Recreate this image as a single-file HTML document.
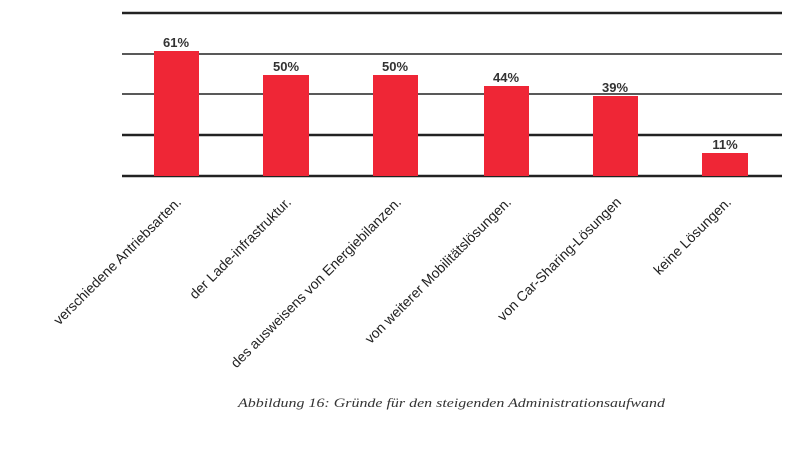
<!DOCTYPE html>
<html><head><style>body{margin:0;background:#fff}</style></head><body>
<svg width="800" height="451" xmlns="http://www.w3.org/2000/svg" font-family="Liberation Sans, sans-serif">
<g stroke="#222" stroke-width="2.5">
<line x1="122" y1="13" x2="782" y2="13"/>
<line x1="122" y1="54" x2="782" y2="54" stroke-width="1.5"/>
<line x1="122" y1="94" x2="782" y2="94" stroke-width="1.5"/>
<line x1="122" y1="135" x2="782" y2="135"/>
<line x1="122" y1="176" x2="782" y2="176"/>
</g>
<g fill="#ef2636">
<rect x="154" y="51" width="45" height="125"/>
<rect x="263" y="75" width="46" height="101"/>
<rect x="373" y="75" width="45" height="101"/>
<rect x="484" y="86" width="45" height="90"/>
<rect x="593" y="96" width="45" height="80"/>
<rect x="702" y="153" width="46" height="23"/>
</g>
<g font-size="13" font-weight="bold" fill="#333" text-anchor="middle">
<text x="176" y="47">61%</text><text x="286" y="71">50%</text><text x="395" y="71">50%</text>
<text x="506" y="82">44%</text><text x="615" y="92">39%</text><text x="725" y="149">11%</text>
</g>
<g font-size="14" fill="#222" text-anchor="end">
<text transform="translate(182,203) rotate(-45)">verschiedene Antriebsarten.</text>
<text transform="translate(292,203) rotate(-45)">der Lade-infrastruktur.</text>
<text transform="translate(402,203) rotate(-45)">des ausweisens von Energiebilanzen.</text>
<text transform="translate(512,203) rotate(-45)">von weiterer Mobilitätslösungen.</text>
<text transform="translate(622,203) rotate(-45)">von Car-Sharing-Lösungen</text>
<text transform="translate(732,203) rotate(-45)">keine Lösungen.</text>
</g>
<text x="238" y="407" font-family="Liberation Serif, serif" font-style="italic" font-size="13" fill="#333" textLength="427" lengthAdjust="spacingAndGlyphs">Abbildung 16: Gründe für den steigenden Administrationsaufwand</text>
</svg>
</body></html>
